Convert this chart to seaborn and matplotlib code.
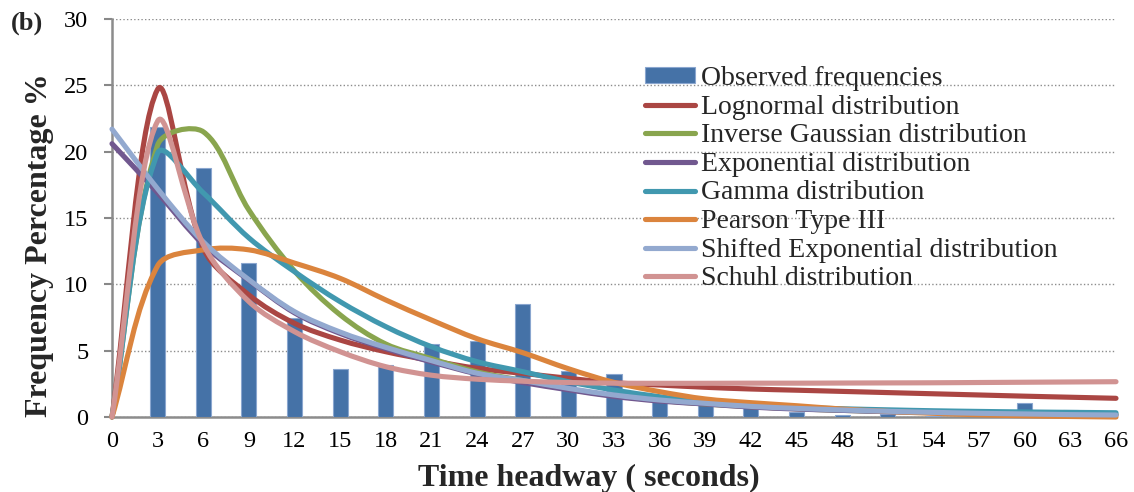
import numpy as np
import pandas as pd
import matplotlib
matplotlib.use("Agg")
import matplotlib.pyplot as plt
import seaborn as sns
from matplotlib.path import Path
from matplotlib.patches import PathPatch, Patch
from matplotlib.lines import Line2D

# Time headway classes (seconds)
headway = [0, 3, 6, 9, 12, 15, 18, 21, 24, 27, 30, 33,
           36, 39, 42, 45, 48, 51, 54, 57, 60, 63, 66]

# Observed frequency percentages (no class at 0 s)
observed = [21.85, 18.75, 11.6, 7.5, 3.65, 3.9, 5.5, 5.7, 8.55, 3.45, 3.22,
            1.5, 1.1, 0.75, 0.4, 0.12, 0.2, 0.05, 0.05, 1.03, 0.53, 0.05]

# Fitted distributions (% per class)
lognormal = [0.0, 24.7, 12.7, 9.2, 7.06, 5.8, 4.92, 4.25, 3.67, 3.29, 2.92, 2.58,
             2.41, 2.24, 2.11, 2.02, 1.93, 1.84, 1.75, 1.66, 1.57, 1.49, 1.41]
inverse_gaussian = [0.0, 20.5, 21.5, 15.6, 11.0, 7.7, 5.5, 4.4, 3.4, 2.75, 2.1, 1.6,
                    1.25, 0.98, 0.78, 0.62, 0.5, 0.42, 0.35, 0.3, 0.26, 0.23, 0.2]
exponential = [20.6, 16.9, 13.0, 10.3, 7.85, 6.3, 5.15, 4.15, 3.25, 2.6, 2.05, 1.55,
               1.2, 0.98, 0.75, 0.6, 0.5, 0.4, 0.33, 0.27, 0.22, 0.18, 0.15]
gamma = [0.0, 19.9, 16.9, 13.5, 10.95, 8.69, 6.81, 5.3, 4.17, 3.42, 2.66, 2.03,
         1.53, 1.1, 0.85, 0.72, 0.62, 0.54, 0.47, 0.42, 0.38, 0.35, 0.32]
pearson3 = [0.0, 11.4, 12.6, 12.6, 11.6, 10.45, 8.82, 7.31, 5.9, 4.85, 3.64, 2.61,
            1.91, 1.36, 1.08, 0.85, 0.6, 0.42, 0.28, 0.17, 0.09, 0.04, 0.0]
shifted_exponential = [21.7, 17.2, 13.2, 10.35, 7.94, 6.4, 5.25, 4.25, 3.3, 2.75, 2.16,
                       1.66, 1.28, 1.03, 0.8, 0.65, 0.53, 0.43, 0.35, 0.28, 0.23, 0.18, 0.15]
schuhl = [0.0, 22.3, 13.0, 8.7, 6.43, 4.92, 3.79, 3.15, 2.85, 2.7, 2.6, 2.55,
          2.54, 2.54, 2.55, 2.55, 2.56, 2.57, 2.58, 2.6, 2.62, 2.64, 2.66]

series = [
    ("Lognormal distribution", lognormal, "#AA4643"),
    ("Inverse Gaussian distribution", inverse_gaussian, "#89A54E"),
    ("Exponential distribution", exponential, "#71588F"),
    ("Gamma distribution", gamma, "#4198AF"),
    ("Pearson Type III", pearson3, "#DB843D"),
    ("Shifted Exponential distribution", shifted_exponential, "#93A9CF"),
    ("Schuhl distribution", schuhl, "#D19392"),
]
bar_color = "#4572A7"

sns.set_theme(style="white")
plt.rcParams["font.family"] = ["Liberation Serif", "DejaVu Serif"]

W, H = 1134, 492
fig = plt.figure(figsize=(W / 100, H / 100), dpi=100)
ax = fig.add_axes([112 / W, 1 - 417 / H, (1116 - 112) / W, (417 - 19) / H])

bars = pd.DataFrame({"headway": headway[1:], "observed": observed})
sns.barplot(data=bars, x="headway", y="observed", native_scale=True,
            width=0.33, color=bar_color, saturation=1, edgecolor="#8aa6cf",
            linewidth=0.8, ax=ax, zorder=2)

ax.set_xlim(0, 66)
ax.set_ylim(0, 30)
ax.set_xticks(headway)
ax.set_xticklabels([str(h) for h in headway])
ax.set_yticks(range(0, 31, 5))
ax.set_xlabel("")
ax.set_ylabel("")
ax.tick_params(axis="x", length=0, pad=10, labelsize=17.5, colors="black")
ax.tick_params(axis="y", length=6, width=1.5, pad=11, labelsize=17.5,
               colors="#888888", labelcolor="black", direction="out", left=True)

ax.grid(axis="y", linestyle=(0, (1, 1.6)), color="#8c8c8c", linewidth=1.0, zorder=0)
ax.set_axisbelow(True)
for side in ("top", "right"):
    ax.spines[side].set_visible(False)
for side in ("left", "bottom"):
    ax.spines[side].set_color("#8c8c8c")
    ax.spines[side].set_linewidth(1.8)
    ax.spines[side].set_zorder(1)


def smooth_path(xs, ys):
    """Smoothed line through the points, built from cubic Bezier segments
    whose control arms scale with neighbouring segment lengths."""
    pts = ax.transData.transform(np.column_stack([xs, ys]))
    n = len(pts)
    verts = [pts[0]]
    codes = [Path.MOVETO]
    for i in range(n - 1):
        p0 = pts[i - 1] if i > 0 else pts[i]
        p1, p2 = pts[i], pts[i + 1]
        p3 = pts[i + 2] if i + 2 < n else pts[i + 1]
        d01 = np.hypot(*(p1 - p0))
        d12 = np.hypot(*(p2 - p1))
        d23 = np.hypot(*(p3 - p2))
        c1 = p1 + (p2 - p0) * (d12 / (d01 + d12)) / 3.0
        c2 = p2 - (p3 - p1) * (d12 / (d12 + d23)) / 3.0
        verts += [c1, c2, p2]
        codes += [Path.CURVE4] * 3
    verts = ax.transData.inverted().transform(np.array(verts))
    return Path(verts, codes)


for label, values, color in series:
    patch = PathPatch(smooth_path(headway, values), fill=False, edgecolor=color,
                      linewidth=3.7, capstyle="round", joinstyle="round",
                      zorder=3, clip_on=False)
    ax.add_patch(patch)

handles = [Patch(facecolor=bar_color, edgecolor="#8aa6cf", linewidth=0.8)]
handles += [Line2D([], [], color=c, linewidth=3.7, solid_capstyle="round")
            for _, _, c in series]
labels = ["Observed frequencies"] + [s[0] for s in series]
ax.legend(handles, labels, loc="upper left", bbox_to_anchor=(645 / W, 1 - 66 / H),
          bbox_transform=fig.transFigure, frameon=False, fontsize=20,
          borderpad=0, borderaxespad=0, handlelength=1.8, handleheight=0.5,
          handletextpad=0.2, labelspacing=0.13)

fig.text(589 / W, 1 - 478 / H, "Time headway ( seconds)", ha="center", va="center",
         fontsize=23, fontweight="bold")
fig.text(40 / W, 1 - 245 / H, "Frequency Percentage %", ha="center", va="center",
         rotation=90, fontsize=23, fontweight="bold")
fig.text(27 / W, 1 - 23 / H, "(b)", ha="center", va="center",
         fontsize=19, fontweight="bold")

fig.savefig("out.png", dpi=100, facecolor="white")
